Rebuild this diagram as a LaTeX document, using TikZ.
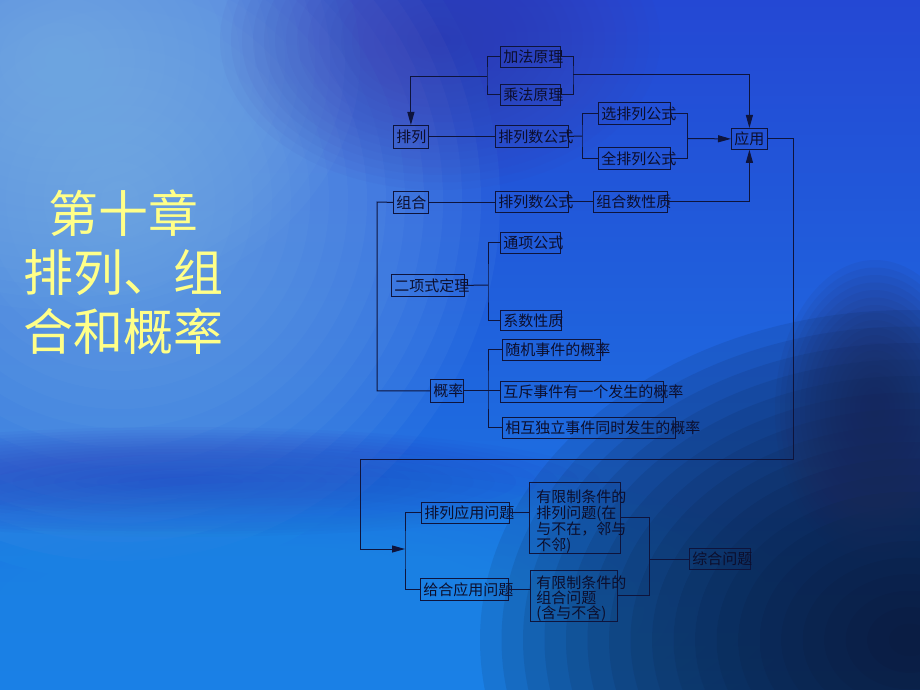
\documentclass[tikz,border=0pt]{standalone}
\usepackage{fontspec}
\newfontfamily\cjk{Noto Sans CJK SC}
\usetikzlibrary{arrows.meta}

\definecolor{ink}{RGB}{12,14,44}
\definecolor{wire}{RGB}{14,20,60}
\definecolor{headline}{RGB}{255,255,136}
\definecolor{bgtop}{RGB}{36,72,212}
\definecolor{bgbottom}{RGB}{26,126,230}
\definecolor{skyglow}{RGB}{120,176,236}
\definecolor{violet}{RGB}{60,60,172}
\definecolor{band}{RGB}{40,62,190}
\definecolor{cyanglow}{RGB}{26,144,234}
\definecolor{night}{RGB}{10,22,52}
\definecolor{streak}{RGB}{34,40,88}

% soft blob: colour, centre x, centre y, x radius, y radius, opacity per ring
\newcommand\glowblob[6]{%
    \foreach \k in {1,...,20}
        \fill[#1, fill opacity=#6] (#2,#3) ellipse [x radius={#4*\k/20}, y radius={#5*\k/20}];}

\begin{document}
\begin{tikzpicture}[x=1pt, y=-1pt,
            box/.style = {draw=wire, line width=0.8pt, text=ink,
                anchor=north west, align=left, inner xsep=3pt,
                inner ysep=0pt, minimum height=21pt, text width=#1,
                font=\cjk\fontsize{15}{16}\selectfont},
            tallbox/.style = {box=#1, inner xsep=7pt},
            title/.style = {text=headline, align=center,
                font=\cjk\fontsize{50}{59}\selectfont},
            link/.style = {draw=wire, line width=1pt},
            arrow/.style = {link, -{Triangle[length=13pt,width=7pt]}}]
            \useasboundingbox (0,0) rectangle (920,690);
            % background
            \shade[top color=bgtop, bottom color=bgbottom] (0,0) rectangle (920,690);
            \glowblob{skyglow}{120}{200}{380}{380}{0.08}
            \glowblob{skyglow}{60}{60}{300}{250}{0.08}
            \glowblob{violet}{440}{40}{220}{150}{0.05}
            \glowblob{band}{180}{482}{420}{55}{0.06}
            \glowblob{cyanglow}{280}{610}{520}{160}{0.06}
            \glowblob{night}{910}{640}{430}{330}{0.1}
            \glowblob{streak}{875}{410}{100}{150}{0.07}

            \node[title] (chapter) at (123,272) {第十章\\排列、组\\合和概率};

            % boxes
            \node[box=54pt] (jiafa) at (500,46) {加法原理};
            \node[box=54pt] (chengfa) at (500,84) {乘法原理};
            \node[box=29pt, minimum height=23pt] (pailie) at (393,125) {排列};
            \node[box=67pt, minimum height=22pt] (plsgs) at (495,125) {排列数公式};
            \node[box=66pt, minimum height=22pt] (xuan) at (598,102) {选排列公式};
            \node[box=66pt, minimum height=22pt] (quan) at (598,147) {全排列公式};
            \node[box=30pt] (yingyong) at (731,128) {应用};
            \node[box=29pt, minimum height=22pt] (zuhe) at (393,191) {组合};
            \node[box=67pt] (plsgs2) at (495,191) {排列数公式};
            \node[box=68pt] (zhsxz) at (593,191) {组合数性质};
            \node[box=54pt] (tongxiang) at (500,232) {通项公式};
            \node[box=67pt, minimum height=22pt] (erxiang) at (391,274) {二项式定理};
            \node[box=55pt, minimum height=20pt] (xishu) at (500,310) {系数性质};
            \node[box=92pt] (suiji) at (502,339) {随机事件的概率};
            \node[box=27pt, minimum height=23pt] (gailv) at (430,379) {概率};
            \node[box=157pt] (huchi) at (500,381) {互斥事件有一个发生的概率};
            \node[box=167pt] (xianghu) at (502,417) {相互独立事件同时发生的概率};
            \node[box=82pt] (plyy) at (421,502) {排列应用问题};
            \node[box=82pt, minimum height=22pt] (zhyy) at (420,578) {给合应用问题};
            \node[tallbox=77pt, minimum height=69pt] (tj1) at (529,482)
                {\rule{0pt}{20pt}有限制条件的\\排列问题(在\\与不在，邻与\\不邻)};
            \node[tallbox=75pt, inner xsep=6pt, minimum height=50pt,
                font=\cjk\fontsize{15}{15}\selectfont] (tj2) at (530,570)
                {\rule{0pt}{18pt}有限制条件的\\组合问题\\(含与不含)};
            \node[box=55pt] (zonghe) at (689,548) {综合问题};

            % joints
            \coordinate (jcL) at (487,77);
            \coordinate (jcR) at (573,75);
            \coordinate (pb) at (582,136);
            \coordinate (xq) at (687,138.5);
            \coordinate (zl) at (377,202);
            \coordinate (eb) at (488,285);
            \coordinate (gb) at (488,391);
            \coordinate (lpA) at (793,459);
            \coordinate (lpB) at (360,549);
            \coordinate (yb) at (405,549);
            \coordinate (tz) at (649,559);

            % connectors
            \draw[link] (jiafa.west) -| (jcL) |- (chengfa.west);
            \draw[link] (jiafa.east) -| (jcR) |- (chengfa.east);
            \draw[arrow] (jcL) -| (pailie.north);
            \draw[arrow] (jcR) -| (yingyong.north);
            \draw[link] (pailie.east) -- (pailie.east -| plsgs.west);
            \draw[link] (plsgs.east) -- (pb);
            \draw[link] (xuan.west) -| (pb) |- (quan.west);
            \draw[link] (xuan.east) -| (xq) |- (quan.east);
            \draw[arrow] (xq) -- (yingyong.west);
            \draw[link] (zuhe.east) -- (zuhe.east -| plsgs2.west);
            \draw[link] (plsgs2.east) -- (plsgs2.east -| zhsxz.west);
            \draw[arrow] (zhsxz.east) -| (yingyong.south);
            \draw[link] (zuhe.west) -- (zl) |- (gailv.west);
            \draw[link] (erxiang.east) -- (eb);
            \draw[link] (tongxiang.west) -| (eb) |- (xishu.west);
            \draw[link] (gailv.east) -- (huchi.west |- gailv.east);
            \draw[link] (suiji.west) -| (gb) |- (xianghu.west);
            \draw[arrow] (yingyong.east) -| (lpA) -| (lpB) -- (yb);
            \draw[link] (plyy.west) -| (yb) |- (zhyy.west);
            \draw[link] (plyy.east) -- (plyy.east -| tj1.west);
            \draw[link] (zhyy.east) -- (zhyy.east -| tj2.west);
            \draw[link] (tj1.east) -| (tz) |- (tj2.east);
            \draw[link] (tz) -- (tz -| zonghe.west);
\end{tikzpicture}
\end{document}
